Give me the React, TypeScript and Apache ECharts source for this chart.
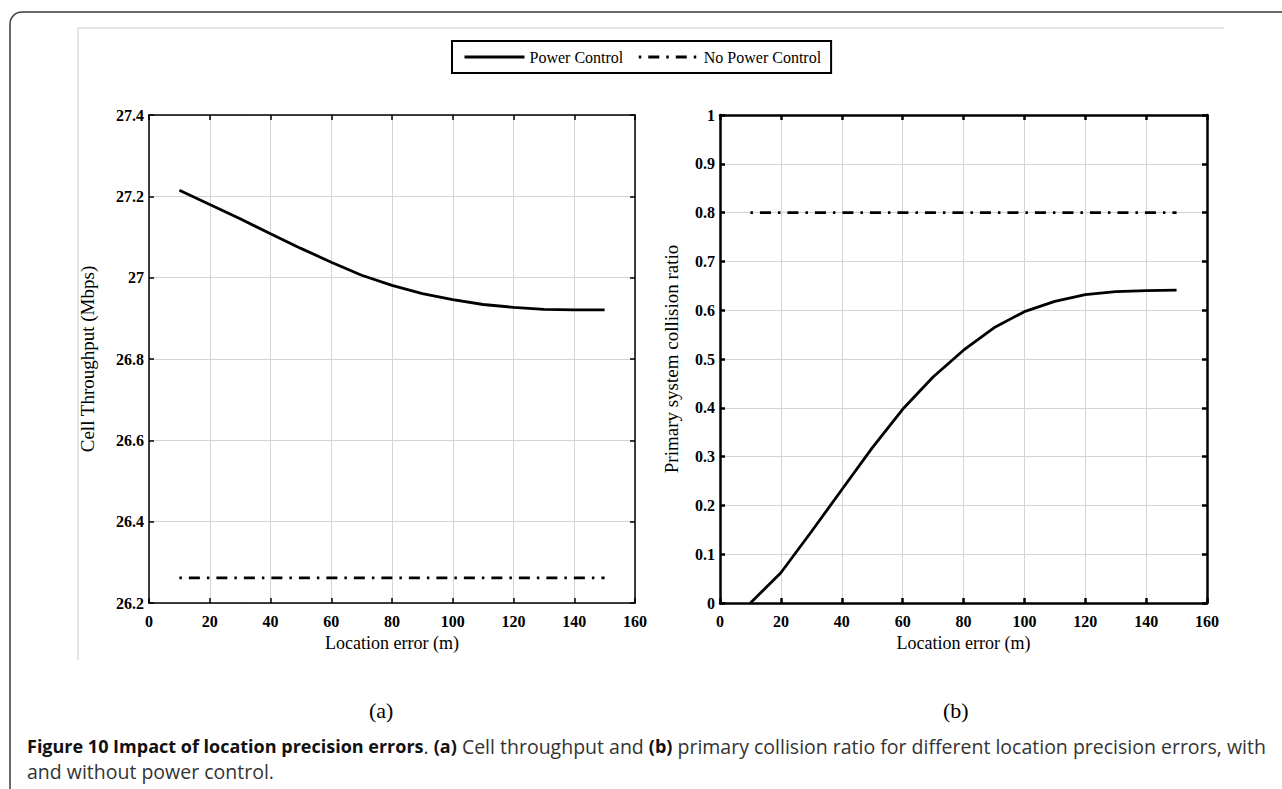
import React, { useEffect, useRef } from "react";
import * as echarts from "echarts";

// ---- data ----
const locationError = [10, 20, 30, 40, 50, 60, 70, 80, 90, 100, 110, 120, 130, 140, 150];
const throughputPowerControl = [27.215, 27.18, 27.145, 27.108, 27.072, 27.038, 27.006, 26.981, 26.961, 26.946, 26.934, 26.927, 26.922, 26.921, 26.921];
const throughputNoPowerControl = [26.262, 26.262, 26.262, 26.262, 26.262, 26.262, 26.262, 26.262, 26.262, 26.262, 26.262, 26.262, 26.262, 26.262, 26.262];
const collisionPowerControl = [0, 0.062, 0.146, 0.232, 0.318, 0.397, 0.463, 0.518, 0.564, 0.597, 0.618, 0.632, 0.638, 0.64, 0.641];
const collisionNoPowerControl = [0.8, 0.8, 0.8, 0.8, 0.8, 0.8, 0.8, 0.8, 0.8, 0.8, 0.8, 0.8, 0.8, 0.8, 0.8];

const seriesNames = ["Power Control", "No Power Control"];
const xAxisTitle = "Location error (m)";
const yAxisTitleA = "Cell Throughput (Mbps)";
const yAxisTitleB = "Primary system collision ratio";
const panelLabels = ["(a)", "(b)"];
const captionBold = "Figure 10 Impact of location precision errors";
const captionLine1Rest = " Cell throughput and ";
const captionLine1End = " primary collision ratio for different location precision errors, with";
const captionLine2 = "and without power control.";

const pairs = (xs: number[], ys: number[]) => xs.map((x, i) => [x, ys[i]]);

const SERIF = "'Liberation Serif', 'Times New Roman', serif";
const SANS = "'Open Sans', sans-serif";
const DASHDOT = [2.5, 7, 11, 7];

export default function App() {
  const ref = useRef<HTMLDivElement>(null);

  useEffect(() => {
    document.body.style.margin = "0";
    const chart = echarts.init(ref.current!, null, { renderer: "svg" });

    const tickLabel = { fontFamily: SERIF, fontWeight: "bold" as const, fontSize: 16, color: "#000" };

    const mkX = (gridIndex: number, lw: number, top: boolean) => ({
      type: "value",
      gridIndex,
      position: top ? "top" : "bottom",
      min: 0,
      max: 160,
      interval: 20,
      name: top ? "" : xAxisTitle,
      nameLocation: "middle",
      nameGap: 30,
      nameTextStyle: { fontFamily: SERIF, fontSize: 18, color: "#000" },
      axisLine: { show: true, onZero: false, lineStyle: { color: "#000", width: lw } },
      axisTick: { show: true, inside: true, length: 5, lineStyle: { color: "#000", width: lw } },
      axisLabel: top ? { show: false } : { ...tickLabel, margin: 10 },
      splitLine: top ? { show: false } : { show: true, lineStyle: { color: "#d4d4d4", width: 1 } },
    });

    const mkY = (gridIndex: number, lw: number, right: boolean, min: number, max: number, interval: number, name: string, gap: number) => ({
      type: "value",
      gridIndex,
      position: right ? "right" : "left",
      min,
      max,
      interval,
      name: right ? "" : name,
      nameLocation: "middle",
      nameGap: gap,
      nameTextStyle: { fontFamily: SERIF, fontSize: 19, color: "#000" },
      axisLine: { show: true, onZero: false, lineStyle: { color: "#000", width: lw } },
      axisTick: { show: true, inside: true, length: 5, lineStyle: { color: "#000", width: lw } },
      axisLabel: right ? { show: false } : { ...tickLabel, margin: 5 },
      splitLine: right ? { show: false } : { show: true, lineStyle: { color: "#d4d4d4", width: 1 } },
    });

    const solid = { color: "#000", width: 2.8, type: "solid" as const };
    const dashdot = { color: "#000", width: 2.8, type: DASHDOT, cap: "butt" as const };

    const option: any = {
      animation: false,
      backgroundColor: "#fff",
      legend: {
        data: seriesNames,
        left: 452,
        top: 41,
        orient: "horizontal",
        itemWidth: 60,
        itemHeight: 14,
        itemGap: 14,
        padding: [8, 10, 8, 11],
        borderColor: "#000",
        borderWidth: 2,
        borderRadius: 0,
        backgroundColor: "#fff",
        itemStyle: { opacity: 0 },
        lineStyle: { width: 3 },
        textStyle: { fontFamily: SERIF, fontSize: 16, color: "#000" },
        selectedMode: false,
      },
      grid: [
        { left: 149, top: 115, width: 486, height: 488, containLabel: false },
        { left: 720, top: 115, width: 487, height: 488, containLabel: false },
      ],
      xAxis: [mkX(0, 1.5, false), mkX(0, 1.5, true), mkX(1, 2.5, false), mkX(1, 2.5, true)],
      yAxis: [
        mkY(0, 1.5, false, 26.2, 27.4, 0.2, yAxisTitleA, 52),
        mkY(0, 1.5, true, 26.2, 27.4, 0.2, "", 0),
        mkY(1, 2.5, false, 0, 1, 0.1, yAxisTitleB, 39),
        mkY(1, 2.5, true, 0, 1, 0.1, "", 0),
      ],
      series: [
        { name: seriesNames[0], type: "line", xAxisIndex: 0, yAxisIndex: 0, data: pairs(locationError, throughputPowerControl), symbol: "none", lineStyle: solid, itemStyle: { color: "#000" } },
        { name: seriesNames[1], type: "line", xAxisIndex: 0, yAxisIndex: 0, data: pairs(locationError, throughputNoPowerControl), symbol: "none", lineStyle: dashdot, itemStyle: { color: "#000" } },
        { name: seriesNames[0], type: "line", xAxisIndex: 2, yAxisIndex: 2, data: pairs(locationError, collisionPowerControl), symbol: "none", lineStyle: solid, itemStyle: { color: "#000" } },
        { name: seriesNames[1], type: "line", xAxisIndex: 2, yAxisIndex: 2, data: pairs(locationError, collisionNoPowerControl), symbol: "none", lineStyle: dashdot, itemStyle: { color: "#000" } },
      ],
      graphic: [
        {
          type: "rect",
          z: -10,
          silent: true,
          shape: { x: 10, y: 12, width: 1320, height: 820, r: [12, 0, 0, 0] },
          style: { fill: "none", stroke: "#3a3a3a", lineWidth: 1.5 },
        },
        { type: "line", silent: true, shape: { x1: 78, y1: 28, x2: 1224, y2: 28 }, style: { stroke: "#c8c8c8", lineWidth: 1 } },
        { type: "line", silent: true, shape: { x1: 78, y1: 28, x2: 78, y2: 660 }, style: { stroke: "#c8c8c8", lineWidth: 1 } },
        {
          type: "text",
          left: 369,
          top: 699,
          style: { text: panelLabels[0], font: `22px ${SERIF}`, fill: "#000" },
        },
        {
          type: "text",
          left: 943,
          top: 699,
          style: { text: panelLabels[1], font: `22px ${SERIF}`, fill: "#000" },
        },
        {
          type: "text",
          left: 27,
          top: 736,
          style: {
            text:
              `{b|${captionBold}}{n|. }{b|${panelLabels[0]}}{n|${captionLine1Rest}}{b|${panelLabels[1]}}{n|${captionLine1End}}\n{n|${captionLine2}}`,
            rich: {
              b: { fontFamily: SANS, fontWeight: "bold", fontSize: 18, fill: "#111", lineHeight: 25 },
              n: { fontFamily: SANS, fontSize: 19.5, fill: "#333", lineHeight: 25 },
            },
          },
        },
      ],
    };

    chart.setOption(option);
    return () => chart.dispose();
  }, []);

  return <div ref={ref} style={{ width: 1282, height: 789 }} />;
}
